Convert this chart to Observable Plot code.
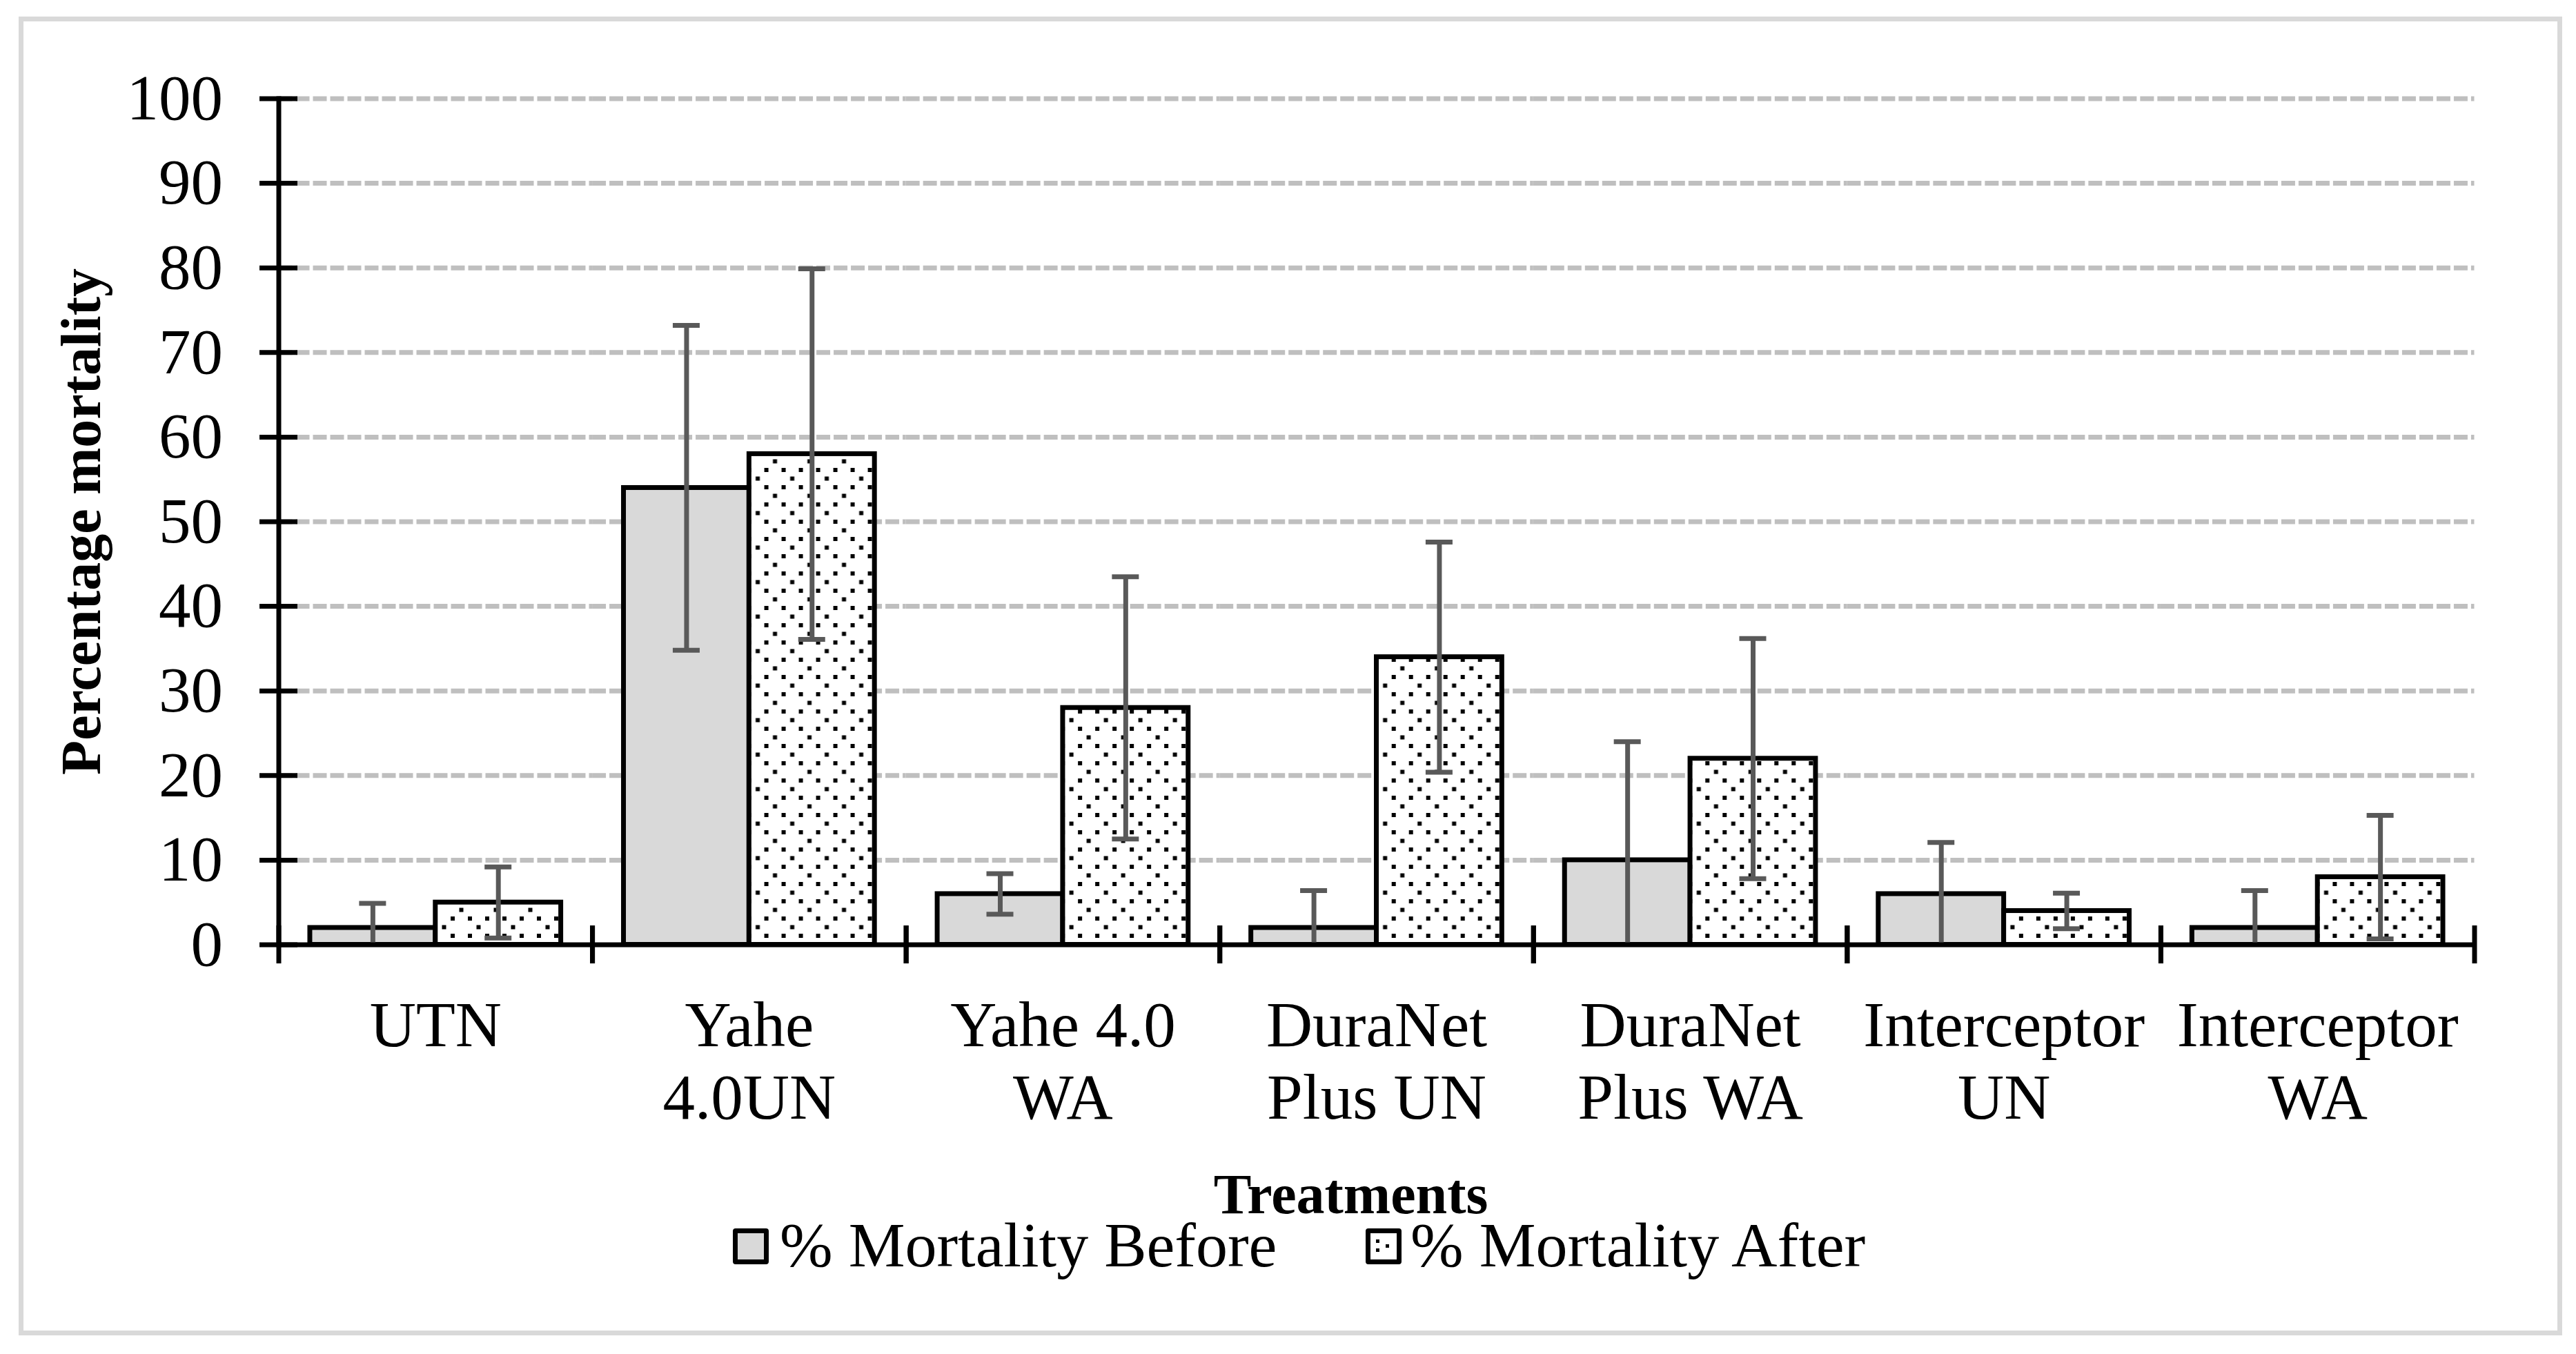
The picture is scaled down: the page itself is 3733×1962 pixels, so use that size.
<!DOCTYPE html>
<html>
<head>
<meta charset="utf-8">
<script src="https://cdn.jsdelivr.net/npm/d3@7"></script>
<script src="https://cdn.jsdelivr.net/npm/@observablehq/plot@0.6"></script>
<style>
html, body { margin: 0; padding: 0; background: #fff; }
#wrap { position: relative; width: 3733px; height: 1962px; overflow: hidden; font-family: "Liberation Serif", "Times New Roman", serif; background: #fff; }
#border { position: absolute; left: 27px; top: 24px; width: 3686px; height: 1911px; border: 7px solid #d9d9d9; box-sizing: border-box; pointer-events: none; }
#chart { position: absolute; left: 0; top: 0; }
.leg { position: absolute; top: 1758px; font-size: 92px; line-height: 1; white-space: nowrap; color: #000; }
.sw { position: absolute; top: 1780px; width: 52px; height: 52px; box-sizing: border-box; border: 7px solid #000; border-radius: 4px; overflow: hidden; }
</style>
</head>
<body>
<svg width="0" height="0" style="position:absolute">
  <defs>
    <pattern id="dots" patternUnits="userSpaceOnUse" width="50" height="50">
      <rect width="50" height="50" fill="#fff"/>
      <rect x="3" y="3" width="6" height="6" fill="#000"/>
      <rect x="28" y="3" width="6" height="6" fill="#000"/>
      <rect x="15.5" y="15.5" width="6" height="6" fill="#000"/>
      <rect x="3" y="28" width="6" height="6" fill="#000"/>
      <rect x="28" y="28" width="6" height="6" fill="#000"/>
      <rect x="40.5" y="40.5" width="6" height="6" fill="#000"/>
    </pattern>
    <pattern id="dotsSw" patternUnits="userSpaceOnUse" width="38" height="38">
      <rect width="38" height="38" fill="#fff"/>
      <rect x="8" y="9" width="5" height="5" fill="#000"/>
      <rect x="8" y="22" width="5" height="5" fill="#000"/>
      <rect x="22" y="16" width="5" height="5" fill="#000"/>
    </pattern>
  </defs>
</svg>
<div id="wrap">
  <div id="chart"></div>
  <div id="legend"></div>
  <div id="border"></div>
</div>
<script>
// ---- data ----
const categories = ["UTN", "Yahe 4.0UN", "Yahe 4.0 WA", "DuraNet Plus UN", "DuraNet Plus WA", "Interceptor UN", "Interceptor WA"];
const tickLabels = ["UTN", "Yahe\n4.0UN", "Yahe 4.0\nWA", "DuraNet\nPlus UN", "DuraNet\nPlus WA", "Interceptor\nUN", "Interceptor\nWA"];
const series = ["% Mortality Before", "% Mortality After"];
const before = [2, 54, 6, 2, 10, 6, 2];
const after = [5, 58, 28, 34, 22, 4, 8];
const errBefore = [2.9, 19.2, 2.4, 4.4, 14, 6.1, 4.4];
const errAfter = [4.2, 21.9, 15.5, 13.6, 14.2, 2.1, 7.3];
const yTicks = [0, 10, 20, 30, 40, 50, 60, 70, 80, 90, 100];
const yTitle = "Percentage mortality";
const xTitle = "Treatments";

const rows = categories.flatMap((c, i) => [
  {treatment: c, series: series[0], value: before[i], err: errBefore[i]},
  {treatment: c, series: series[1], value: after[i], err: errAfter[i]}
]).map(d => ({...d, lo: Math.max(0, d.value - d.err), hi: d.value + d.err}));

// ---- layout ----
const W = 3733, H = 1775;
const ML = 403.5, MR = 147.5, MT = 142.5, MB = H - 1368.5;
const step = (W - ML - MR) / categories.length;
const bw = step / 2.5;
const capInset = (bw - 39) / 2;
const font = '"Liberation Serif", "Times New Roman", serif';
const errColor = "#595959";

const plot = Plot.plot({
  width: W, height: H,
  marginLeft: ML, marginRight: MR, marginTop: MT, marginBottom: MB,
  style: {fontFamily: font, fontSize: "93px", color: "#000", background: "transparent", overflow: "visible"},
  fx: {domain: categories, padding: 0, round: false, label: null},
  x: {domain: series, paddingInner: 0, paddingOuter: 0.25, round: false, axis: null},
  y: {domain: [0, 100], label: null},
  marks: [
    Plot.gridY(yTicks.filter(d => d > 0), {stroke: "#bfbfbf", strokeOpacity: 1, strokeWidth: 7, strokeDasharray: "20,5"}),
    Plot.barY(rows.filter(d => d.series === series[0]), {fx: "treatment", x: "series", y: "value", fill: "#d9d9d9", stroke: "#000", strokeWidth: 7}),
    Plot.barY(rows.filter(d => d.series === series[1]), {fx: "treatment", x: "series", y: "value", fill: "url(#dots)", stroke: "#000", strokeWidth: 7}),
    Plot.ruleX(rows, {fx: "treatment", x: "series", y1: "lo", y2: "hi", stroke: errColor, strokeWidth: 7}),
    Plot.tickY(rows, {fx: "treatment", x: "series", y: "hi", insetLeft: capInset, insetRight: capInset, stroke: errColor, strokeWidth: 7}),
    Plot.tickY(rows.filter(d => d.value - d.err > 0), {fx: "treatment", x: "series", y: "lo", insetLeft: capInset, insetRight: capInset, stroke: errColor, strokeWidth: 7}),
    Plot.ruleY([0], {stroke: "#000", strokeWidth: 7}),
    Plot.frame({anchor: "left", facetAnchor: "left", stroke: "#000", strokeWidth: 7}),
    Plot.axisY(yTicks, {tickSize: 55, dx: 27.5, text: null, stroke: "#000", strokeWidth: 7}),
    Plot.axisY(yTicks, {tickSize: 0, tickPadding: 81, tickFormat: d => String(d), fontSize: 93}),
    Plot.axisFx({anchor: "bottom", tickSize: 0, tickPadding: 72.5, tickFormat: d => tickLabels[categories.indexOf(d)], lineHeight: 1.13, fontSize: 93}),
    Plot.axisFx({anchor: "bottom", tickSize: 55, dy: -27.5, dx: -step / 2, text: null, stroke: "#000", strokeWidth: 7}),
    Plot.axisFx([categories[categories.length - 1]], {anchor: "bottom", tickSize: 55, dy: -27.5, dx: step / 2, text: null, stroke: "#000", strokeWidth: 7}),
    Plot.text([{t: categories[0]}], {fx: "t", frameAnchor: "left", text: () => yTitle, rotate: -90, dx: 118 - ML, fontWeight: "bold", fontSize: 82, lineAnchor: "middle", textAnchor: "middle"}),
    Plot.text([{t: categories[3]}], {fx: "t", frameAnchor: "bottom", text: () => xTitle, dx: 1957 - (ML + W - MR) / 2, dy: 1699 - 1368.5, lineAnchor: "top", textAnchor: "middle", fontWeight: "bold", fontSize: 82})
  ]
});
document.getElementById("chart").appendChild(plot);

// ---- legend ----
const legend = document.getElementById("legend");
const legItems = [
  {label: series[0], swLeft: 1062, textLeft: 1130, fill: "#d9d9d9"},
  {label: series[1], swLeft: 1979, textLeft: 2044, fill: "url(#dotsSw)"}
];
legItems.forEach(it => {
  const sw = document.createElement("div");
  sw.className = "sw";
  sw.style.left = it.swLeft + "px";
  sw.innerHTML = `<svg width="38" height="38" style="display:block"><rect width="38" height="38" fill="${it.fill}"/></svg>`;
  legend.appendChild(sw);
  const tx = document.createElement("div");
  tx.className = "leg";
  tx.style.left = it.textLeft + "px";
  tx.textContent = it.label;
  legend.appendChild(tx);
});
</script>
</body>
</html>
